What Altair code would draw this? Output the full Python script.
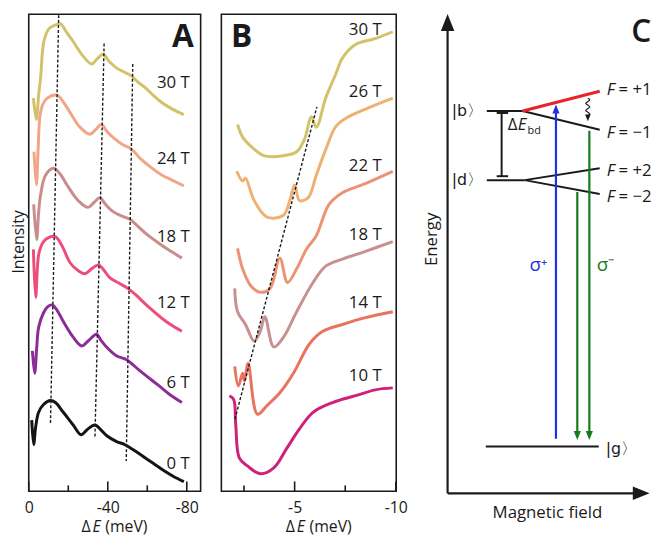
import altair as alt
import pandas as pd

FONT = "Open Sans"
INK = "#1a1a1a"

# ---------------- Panel A : spectra (Delta E in meV, intensity in arb. units) -------------
A_fields = ["0 T", "6 T", "12 T", "18 T", "24 T", "30 T"]
A_colors = ["#141414", "#8C2C99", "#EE4D7C", "#C98E8C", "#F2A688", "#D2C36A"]

A0_E = [-1.5, -2.5, -3.5, -5, -7.5, -11, -13.5, -17.5, -22.5, -26.5, -30, -33.5, -36.5, -39.5,
        -44.5, -48.5, -52.5, -58.5, -63.5, -68.5, -73.5, -78.5]
A0_I = [73, 48, 66, 81, 89, 93, 91, 81, 68, 58, 64, 68, 63, 57, 51, 48, 43, 35, 28, 21, 15, 10]

A6_E = [-1.85, -3, -4, -5, -7.5, -9.5, -11.85, -14.5, -17.5, -22.5, -26.85, -30.5, -34.35, -36.5,
        -39.35, -44.35, -49.35, -56, -61, -66, -71.5, -77.5]
A6_I = [144, 121, 146, 168, 183, 189, 191, 185, 174, 158, 149, 155, 161, 155, 148, 139, 135, 124,
        116, 108, 99, 91]

A12_E = [-2.35, -3.5, -5.15, -7.5, -10, -13.5, -17, -21, -25.15, -28.5, -31.85, -35.15, -37.5, -41,
         -46, -50.15, -54.35, -59.5, -69.5, -77.5]
A12_I = [248, 199, 244, 256, 260, 261, 251, 234, 226, 223, 228, 232, 228, 219, 213, 208, 201, 191,
         174, 164]

A18_E = [-2.5, -4, -5, -6, -8.5, -12.5, -16, -19.35, -25, -30, -33, -36, -38.5, -41.85, -46, -51,
         -55, -59.35, -66, -72, -77.5]
A18_I = [294, 258, 286, 304, 324, 331, 325, 314, 298, 291, 296, 301, 295, 288, 283, 279, 272, 264,
         254, 246, 239]

A24_E = [-2.65, -3.85, -4.75, -5.65, -7, -9.35, -14.35, -17.5, -21, -26, -31, -34, -36.85, -39.5,
         -42.5, -47, -51.85, -56.5, -62.5, -67.5, -72.5, -78.5]
A24_I = [348, 314, 351, 384, 396, 403, 406, 399, 388, 373, 366, 371, 376, 369, 363, 356, 351, 341,
         331, 324, 319, 313]

A30_E = [-2.35, -3.85, -5, -6, -7.65, -10.15, -12.5, -16, -19, -22.5, -27.5, -31.85, -34.5, -37.65,
         -40.5, -44.35, -48, -51.85, -55, -59.35, -63.5, -67.65, -72.5, -78.5]
A30_I = [403, 381, 406, 424, 461, 474, 477, 479, 471, 461, 446, 438, 443, 448, 441, 434, 430, 426,
         420, 413, 405, 398, 392, 386]

A_series = [(A0_E, A0_I), (A6_E, A6_I), (A12_E, A12_I), (A18_E, A18_I), (A24_E, A24_I), (A30_E, A30_I)]

A_dash_E = [[-15.15, -11], [-38.15, -33.5], [-52.65, -49.35]]
A_dash_I = [[488, 69], [459, 54], [438, 31]]

A_label_E = -81.5
A_label_I = [28, 111, 193, 261, 341, 418]
A_title_E = -43.5

A_major = [0, -40, -80]
A_minor = [-20, -60]
A_domain = [0, -87]

# ---------------- Panel B -----------------
B_fields = ["10 T", "14 T", "18 T", "22 T", "26 T", "30 T"]
B_colors = ["#D02077", "#E8735F", "#C99090", "#EE9275", "#EFB172", "#D2C36A"]

B10_E = [-1.78, -1.99, -2.09, -2.27, -2.67, -3.30, -3.97, -4.61, -5.24, -5.91, -6.88, -8.01, -8.98, -9.85]
B10_I = [98, 94, 68, 34, 26, 18, 24, 44, 64, 81, 91, 98, 104, 106]

B14_E = [-2.04, -2.22, -2.43, -2.52, -2.70, -3.16, -3.64, -4.27, -4.94, -5.73, -6.39, -7.36, -8.50, -9.85]
B14_I = [128, 108, 121, 113, 131, 79, 88, 101, 121, 151, 164, 171, 178, 184]

B18_E = [-2.04, -2.18, -2.57, -3.00, -3.30, -3.53, -3.97, -4.45, -5.10, -5.91, -6.55, -7.36, -8.50, -9.85]
B18_I = [208, 184, 171, 154, 164, 179, 148, 158, 184, 214, 231, 238, 246, 256]

B22_E = [-2.18, -2.43, -2.82, -3.30, -3.79, -4.27, -4.65, -5.10, -5.58, -6.07, -6.70, -7.36, -8.33, -9.85]
B22_I = [249, 228, 211, 204, 208, 239, 214, 228, 248, 262, 294, 306, 314, 328]

B26_E = [-2.14, -2.43, -2.57, -3.00, -3.64, -4.45, -4.76, -5.00, -5.24, -5.67, -6.07, -6.55, -7.04,
         -7.67, -8.64, -9.85]
B26_I = [328, 318, 321, 298, 281, 283, 298, 314, 298, 301, 324, 351, 374, 384, 393, 403]

B30_E = [-2.18, -2.43, -2.82, -3.48, -4.45, -5.10, -5.49, -5.83, -6.07, -6.55, -7.04, -7.36, -8.01,
         -8.98, -9.85]
B30_I = [376, 363, 354, 344, 344, 348, 361, 384, 373, 404, 428, 444, 458, 464, 471]

B_series = [(B10_E, B10_I), (B14_E, B14_I), (B18_E, B18_I), (B22_E, B22_I), (B26_E, B26_I), (B30_E, B30_I)]

B_dash_E = [[-2.05, -6.10]]
B_dash_I = [[74, 394]]

B_label_E = -9.3
B_label_I = [118, 193, 263, 333, 409, 473]
B_title_E = -6.2

B_major = [-5, -10]
B_minor = [-2.5, -7.5]
B_domain = [-1.38, -10.02]

I_domain = [0, 489]
TITLE_I = -36.5

# ---------------- Panel C : level scheme (arb. units) -----------------
C_black_u = [1.985, 3.8, 1.985, 3.9, 3.9, 1.935, 2.735, 2.485, 2.485]
C_black_v = [19.35, 19.35, 15.85, 15.85, 15.85, 2.365, 19.25, 19.25, 16.05]
C_black_u2 = [3.8, 7.7, 3.9, 7.7, 7.7, 7.65, 2.735, 3.065, 3.065]
C_black_v2 = [19.35, 18.4, 15.85, 16.45, 15.15, 2.365, 16.05, 19.25, 16.05]

C_axis_u = [0, 0]
C_axis_v = [0, 0]
C_axis_u2 = [0, 9.45]
C_axis_v2 = [23.4, 0]

C_red_u, C_red_v, C_red_u2, C_red_v2 = [3.8], [19.35], [7.7], [20.35]
C_blue_u, C_blue_v, C_blue_u2, C_blue_v2 = [5.485], [2.765], [5.485], [19.3]
C_green_u = [7.175, 6.565]
C_green_v = [18.35, 15.25]
C_green_u2 = [7.175, 6.565]
C_green_v2 = [3.1, 3.1]

C_wave_u = [7.1, 7.2, 7.1, 6.99, 7.1, 7.2, 7.1, 6.99, 7.1, 7.2, 7.1]
C_wave_v = [20.0, 19.92, 19.83, 19.74, 19.65, 19.56, 19.47, 19.38, 19.29, 19.2, 19.12]

C_levels = ["|b〉", "|d〉"]
C_levels_u = [1.8, 1.8]
C_levels_v = [19.35, 15.85]
C_g_u, C_g_v = [8.0], [2.25]

C_F_vals = ["= +1", "= −1", "= +2", "= −2"]
C_F_u = 8.05
C_F_v = [20.4, 18.25, 16.3, 15.0]

C_domain_u = [-1.55, 10.6]
C_domain_v = [-1.75, 24.25]

UP = "M0,-1L0.8,1L-0.8,1Z"
DOWN = "M0,1L0.8,-1L-0.8,-1Z"
RIGHT = "M1,0L-1,0.8L-1,-0.8Z"

# ---------------- helpers -----------------
def spectra_df(fields, series):
    frames = []
    for f, (E, I) in zip(fields, series):
        frames.append(pd.DataFrame({"field": f, "E": E, "I": I, "k": list(range(len(E)))}))
    return pd.concat(frames, ignore_index=True)


def dash_df(Es, Is):
    rows = []
    for j, (e, i) in enumerate(zip(Es, Is)):
        for k in range(len(e)):
            rows.append({"line": j, "E": e[k], "I": i[k], "k": k})
    return pd.DataFrame(rows)


def ptxt(E, I, t, **kw):
    base = dict(font=FONT, fontSize=17, color=INK, baseline="middle")
    base.update(kw)
    df = pd.DataFrame({"E": E, "I": I, "t": t})
    return alt.Chart(df).mark_text(**base).encode(x="E:Q", y="I:Q", text="t:N")


def spectra_panel(fields, colors, series, dashE, dashI, labE, labI, major, minor, domain, letter, letter_E,
                  titleE, W, H, show_title):
    xs = alt.Scale(domain=domain, nice=False, zero=False)
    ys = alt.Scale(domain=I_domain, nice=False, zero=False)
    xaxis = alt.Axis(values=major, labelExpr="toString(datum.value)", title="", ticks=False,
                     tickSize=0, domain=False, grid=False, labelFlush=False, labelFontSize=16,
                     labelPadding=8, labelColor=INK, labelFont=FONT)
    if show_title:
        yaxis = alt.Axis(title="Intensity", labels=False, ticks=False, tickSize=0, domain=False, grid=False,
                         titleFontSize=16, titleFontWeight="normal", titlePadding=2, minExtent=0,
                         titleColor=INK, titleFont=FONT, titleY=230)
    else:
        yaxis = alt.Axis(title="", labels=False, ticks=False, tickSize=0, domain=False, grid=False,
                         minExtent=0, maxExtent=0)

    sdf = spectra_df(fields, series)
    lines = alt.Chart(sdf).mark_line(strokeWidth=3, interpolate="catmull-rom").encode(
        x=alt.X("E:Q", scale=xs, axis=xaxis),
        y=alt.Y("I:Q", scale=ys, axis=yaxis),
        color=alt.Color("field:N", scale=alt.Scale(domain=fields, range=colors), legend=None),
        order="k:Q",
    )
    dashes = alt.Chart(dash_df(dashE, dashI)).mark_line(
        strokeDash=[3, 2], strokeWidth=1.4, color=INK).encode(
        x="E:Q", y="I:Q", detail="line:N", order="k:Q")
    ticks_major = alt.Chart(pd.DataFrame({"E": major})).mark_rule(strokeWidth=1.6, color=INK).encode(
        x="E:Q", y=alt.value(H), y2=alt.value(H - 10))
    ticks_minor = alt.Chart(pd.DataFrame({"E": minor})).mark_rule(strokeWidth=1.6, color=INK).encode(
        x="E:Q", y=alt.value(H), y2=alt.value(H - 6))
    labels = ptxt([labE] * len(fields), labI, fields, align="right")
    let = ptxt([letter_E], [465], [letter], align="center", fontSize=32, fontWeight="bold")
    # axis title  "ΔE (meV)" with italic E
    t1 = ptxt([titleE], [TITLE_I], ["Δ"], align="left", dx=-33.5, fontSize=16)
    t2 = ptxt([titleE], [TITLE_I], ["E"], align="left", dx=-22.5, fontStyle="italic", fontSize=16)
    t3 = ptxt([titleE], [TITLE_I], ["(meV)"], align="left", dx=-9.5, fontSize=16)
    return alt.layer(lines, dashes, ticks_major, ticks_minor, labels, let, t1, t2, t3).properties(
        width=W, height=H, view=alt.ViewBackground(stroke=INK, strokeWidth=1.6, fill="white"))


H = 483
A = spectra_panel(A_fields, A_colors, A_series, A_dash_E, A_dash_I, A_label_E, A_label_I,
                  A_major, A_minor, A_domain, "A", -78, A_title_E, 174, H, True)
B = spectra_panel(B_fields, B_colors, B_series, B_dash_E, B_dash_I, B_label_E, B_label_I,
                  B_major, B_minor, B_domain, "B", -2.38, B_title_E, 177, H, False)

# ---------------- Panel C -----------------
cu = alt.Scale(domain=C_domain_u, nice=False, zero=False)
cv = alt.Scale(domain=C_domain_v, nice=False, zero=False)


def seg(u, v, u2, v2, color, width):
    df = pd.DataFrame({"u": u, "v": v, "u2": u2, "v2": v2})
    return alt.Chart(df).mark_rule(color=color, strokeWidth=width).encode(
        x=alt.X("u:Q", scale=cu, axis=None), y=alt.Y("v:Q", scale=cv, axis=None),
        x2="u2:Q", y2="v2:Q")


def head(u, v, shape, size, color):
    df = pd.DataFrame({"u": u, "v": v})
    return alt.Chart(df).mark_point(shape=shape, size=size, filled=True, opacity=1, color=color,
                                    strokeWidth=0).encode(x="u:Q", y="v:Q")


def txt(u, v, t, **kw):
    df = pd.DataFrame({"u": u, "v": v, "t": t})
    base = dict(font=FONT, fontSize=17, color=INK, baseline="middle")
    base.update(kw)
    return alt.Chart(df).mark_text(**base).encode(x="u:Q", y="v:Q", text="t:N")


BLUE = "#1F2FE6"
GREEN = "#167A1A"
RED = "#E8242A"
KET = "DejaVu Sans"

wave = alt.Chart(pd.DataFrame({"u": C_wave_u, "v": C_wave_v, "k": list(range(len(C_wave_u)))})).mark_line(
    color=INK, strokeWidth=1.2, interpolate="catmull-rom").encode(x="u:Q", y="v:Q", order="k:Q")

C = alt.layer(
    seg(C_axis_u, C_axis_v, C_axis_u2, C_axis_v2, INK, 2.2),
    seg(C_black_u, C_black_v, C_black_u2, C_black_v2, INK, 2.0),
    seg(C_red_u, C_red_v, C_red_u2, C_red_v2, RED, 3.0),
    seg(C_blue_u, C_blue_v, C_blue_u2, C_blue_v2, BLUE, 2.2),
    seg(C_green_u, C_green_v, C_green_u2, C_green_v2, GREEN, 2.2),
    wave,
    head([0], [23.83], UP, 289, INK),
    head([9.8], [0], RIGHT, 289, INK),
    head([5.485], [19.45], UP, 81, BLUE),
    head([7.175, 6.565], [2.925, 2.925], DOWN, 81, GREEN),
    head([7.1], [19.0], DOWN, 49, INK),
    txt(C_levels_u, C_levels_v, C_levels, align="right", font=KET, fontSize=16),
    txt(C_g_u, C_g_v, ["|g〉"], align="left", font=KET, fontSize=16),
    txt([C_F_u] * 4, C_F_v, ["F"] * 4, align="left", fontStyle="italic"),
    txt([C_F_u] * 4, C_F_v, C_F_vals, align="left", dx=12),
    txt([5.05], [11.55], ["σ⁺"], align="right", color=BLUE, fontSize=19),
    txt([7.55], [11.55], ["σ⁻"], align="left", color=GREEN, fontSize=19),
    txt([3.05], [18.65], ["Δ"], align="left"),
    txt([3.05], [18.65], ["E"], align="left", dx=10, fontStyle="italic"),
    txt([3.05], [18.65], ["bd"], align="left", dx=20, dy=6, fontSize=11),
    txt([-0.8], [12.85], ["Energy"], align="center", angle=270),
    txt([5.05], [-1.0], ["Magnetic field"], align="center"),
    txt([9.8], [23.35], ["C"], align="center", fontSize=32, fontWeight=600),
).properties(width=243, height=520, view=alt.ViewBackground(stroke="transparent"))

chart = alt.hconcat(A, B, C, spacing=21, bounds="flush", background="white",
                    padding={"left": 2, "top": 0, "right": 0, "bottom": 0}).resolve_scale(
    color="independent").configure(font=FONT).configure_view(stroke="transparent")

chart.save("out.html", embed_options={"renderer": "svg", "actions": False})
